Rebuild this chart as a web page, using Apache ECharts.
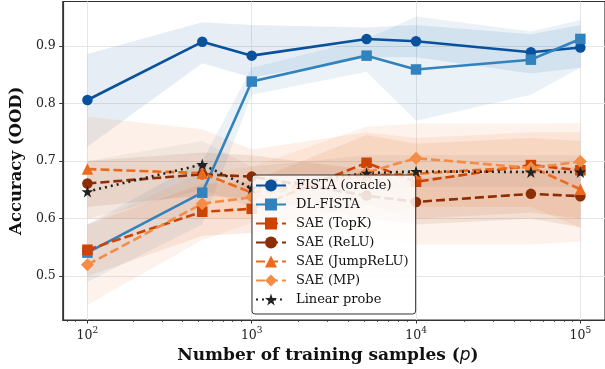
<!DOCTYPE html>
<html><head><meta charset="utf-8">
<script src="https://cdn.jsdelivr.net/npm/echarts@6/dist/echarts.min.js"></script>
<style>html,body{margin:0;padding:0;background:#fff}#c{width:605px;height:369px}</style>
</head><body><div id="c"></div>
<script>
// ---- data ----
const samples = [100, 500, 1000, 5000, 10000, 50000, 100000];
const xTicks = [100, 1000, 10000, 100000];
const xMinorTicks = [80, 90, 200, 300, 400, 500, 600, 700, 800, 900,
  2000, 3000, 4000, 5000, 6000, 7000, 8000, 9000,
  20000, 30000, 40000, 50000, 60000, 70000, 80000, 90000];
const yTicks = [0.5, 0.6, 0.7, 0.8, 0.9];

const fistaMean = [0.806, 0.907, 0.883, 0.912, 0.908, 0.889, 0.897];
const fistaLo   = [0.725, 0.870, 0.845, 0.880, 0.880, 0.852, 0.862];
const fistaHi   = [0.886, 0.941, 0.936, 0.932, 0.936, 0.920, 0.936];

const dlMean = [0.541, 0.645, 0.838, 0.883, 0.859, 0.876, 0.912];
const dlLo   = [0.490, 0.590, 0.815, 0.855, 0.770, 0.815, 0.862];
const dlHi   = [0.590, 0.700, 0.862, 0.912, 0.951, 0.925, 0.945];

const topkMean = [0.546, 0.612, 0.617, 0.697, 0.664, 0.693, 0.684];
const topkLo   = [0.500, 0.570, 0.575, 0.625, 0.600, 0.610, 0.600];
const topkHi   = [0.590, 0.660, 0.665, 0.745, 0.730, 0.740, 0.735];

const reluMean = [0.661, 0.677, 0.673, 0.640, 0.629, 0.643, 0.639];
const reluLo   = [0.620, 0.640, 0.635, 0.600, 0.590, 0.600, 0.585];
const reluHi   = [0.700, 0.715, 0.710, 0.685, 0.670, 0.685, 0.690];

const jumpMean = [0.686, 0.679, 0.645, 0.675, 0.678, 0.690, 0.651];
const jumpLo   = [0.600, 0.600, 0.600, 0.600, 0.620, 0.620, 0.584];
const jumpHi   = [0.777, 0.755, 0.720, 0.750, 0.740, 0.750, 0.750];

const mpMean = [0.520, 0.626, 0.637, 0.680, 0.705, 0.688, 0.699];
const mpLo   = [0.450, 0.563, 0.592, 0.570, 0.555, 0.555, 0.560];
const mpHi   = [0.590, 0.680, 0.690, 0.760, 0.765, 0.765, 0.766];

const probeMean = [0.647, 0.694, 0.653, 0.679, 0.682, 0.681, 0.681];
const probeLo   = [0.600, 0.650, 0.620, 0.650, 0.655, 0.655, 0.655];
const probeHi   = [0.700, 0.735, 0.690, 0.710, 0.710, 0.710, 0.710];

// ---- styling ----
const STAR = 'path://M50,0 L61.8,35.1 L98.9,35.1 L68.9,56.9 L80.3,92.1 L50,70.3 L19.7,92.1 L31.1,56.9 L1.1,35.1 L38.2,35.1 Z';
const defs = [
  {name:'FISTA (oracle)', color:'#08519c', symbol:'circle', size:10.5, type:'solid', mean:fistaMean, lo:fistaLo, hi:fistaHi, alpha:0.1},
  {name:'DL-FISTA', color:'#3182bd', symbol:'rect', size:10.5, type:'solid', mean:dlMean, lo:dlLo, hi:dlHi, alpha:0.1},
  {name:'SAE (TopK)', color:'#cc4302', symbol:'rect', size:10.5, type:[9,4], mean:topkMean, lo:topkLo, hi:topkHi, alpha:0.1},
  {name:'SAE (ReLU)', color:'#8c2d04', symbol:'circle', size:10.5, type:[9,4], mean:reluMean, lo:reluLo, hi:reluHi, alpha:0.1},
  {name:'SAE (JumpReLU)', color:'#ec6a1c', symbol:'triangle', size:11.5, type:[9,4], mean:jumpMean, lo:jumpLo, hi:jumpHi, alpha:0.1},
  {name:'SAE (MP)', color:'#f58c45', symbol:'diamond', size:13, type:[9,4], mean:mpMean, lo:mpLo, hi:mpHi, alpha:0.1},
  {name:'Linear probe', color:'#222222', symbol:STAR, size:12, type:[2,4], mean:probeMean, lo:probeLo, hi:probeHi, alpha:0.05}
];
function rgba(hex, a){
  const n = parseInt(hex.slice(1),16);
  return 'rgba('+((n>>16)&255)+','+((n>>8)&255)+','+(n&255)+','+a+')';
}
const SERIF = 'DejaVu Serif';
const series = [];
defs.forEach(d => {
  const data = samples.map((x,i)=>[x, d.lo[i], d.hi[i]]);
  series.push({
    type:'custom', z:1, silent:true, xAxisIndex:0, yAxisIndex:0,
    encode:{x:0, y:[1,2]}, data,
    renderItem(params, api){
      if (params.dataIndex !== 0) return null;
      const top = data.map(p => api.coord([p[0], p[2]]));
      const bot = data.map(p => api.coord([p[0], p[1]])).reverse();
      return {type:'polygon', shape:{points: top.concat(bot)}, style:{fill: rgba(d.color, d.alpha)}};
    }
  });
});
defs.forEach(d => {
  series.push({
    type:'line', name:d.name, z:3, xAxisIndex:0, yAxisIndex:0,
    data: samples.map((x,i)=>[x, d.mean[i]]),
    symbol:d.symbol, symbolSize:d.size, showAllSymbol:true,
    lineStyle:{color:d.color, width:2.6, type:d.type},
    itemStyle:{color:d.color, borderWidth:0},
    emphasis:{disabled:true}
  });
});

const gridPos = {left:58, top:1.5, right:-3, bottom:49};
const option = {
  animation:false,
  grid:[
    Object.assign({show:true, borderColor:'#333', borderWidth:1.2, backgroundColor:'transparent'}, gridPos),
    Object.assign({show:false}, gridPos)
  ],
  legend:{
    orient:'vertical', left:252, top:175,
    data: defs.map(d=>d.name),
    itemWidth:30, itemHeight:15, itemGap:6,
    padding:[4,7,8,3],
    backgroundColor:'rgba(255,255,255,0.85)',
    borderColor:'#333', borderWidth:1, borderRadius:3,
    textStyle:{fontFamily:SERIF, fontSize:13, color:'#111', padding:[0,0,0,5]},
    selectedMode:false
  },
  xAxis:[{
    type:'log', logBase:10, gridIndex:0, min:70.8, max:141254,
    axisLine:{show:true, lineStyle:{color:'#333', width:1.2}},
    axisTick:{show:true, customValues:xTicks, length:3.5, lineStyle:{color:'#333', width:1}},
    axisLabel:{customValues:xTicks, margin:6,
      formatter: v => '{b|10}{s|' + Math.round(Math.log10(v)) + '}',
      rich:{b:{fontFamily:SERIF, fontSize:12.5, color:'#222', lineHeight:16, verticalAlign:'bottom'},
            s:{fontFamily:SERIF, fontSize:9, color:'#222', lineHeight:16, verticalAlign:'top'}}},
    splitLine:{show:true, lineStyle:{color:'#e6e6e6', width:1}},
    name:'Number of training samples ({it|p})', nameLocation:'middle', nameGap:22,
    nameTextStyle:{fontFamily:SERIF, fontWeight:'bold', fontSize:17, color:'#111', padding:[0,12,0,0],
      rich:{it:{fontFamily:'DejaVu Sans', fontStyle:'italic', fontWeight:'normal', fontSize:17, color:'#111'}}}
  },{
    type:'log', logBase:10, gridIndex:1, min:70.8, max:141254,
    axisLine:{show:false},
    axisTick:{show:true, customValues:xMinorTicks, length:2, lineStyle:{color:'#333', width:0.8}},
    axisLabel:{show:false}, splitLine:{show:false}
  }],
  yAxis:[{
    type:'value', gridIndex:0, min:0.424, max:0.977,
    axisLine:{show:true, lineStyle:{color:'#333', width:1.2}},
    axisTick:{show:true, customValues:yTicks, length:3.5, lineStyle:{color:'#333', width:1}},
    axisLabel:{customValues:yTicks, margin:7, formatter: v => v.toFixed(1),
      fontFamily:SERIF, fontSize:12.5, color:'#222'},
    splitLine:{show:true, lineStyle:{color:'#e6e6e6', width:1}},
    name:'Accuracy (OOD)', nameLocation:'middle', nameGap:33, nameRotate:90,
    nameTextStyle:{fontFamily:SERIF, fontWeight:'bold', fontSize:16.5, color:'#111'}
  },{
    type:'value', gridIndex:1, min:0.424, max:0.977, show:false
  }],
  series
};
const chart = echarts.init(document.getElementById('c'), null, {renderer:'canvas'});
chart.setOption(option);
</script></body></html>
